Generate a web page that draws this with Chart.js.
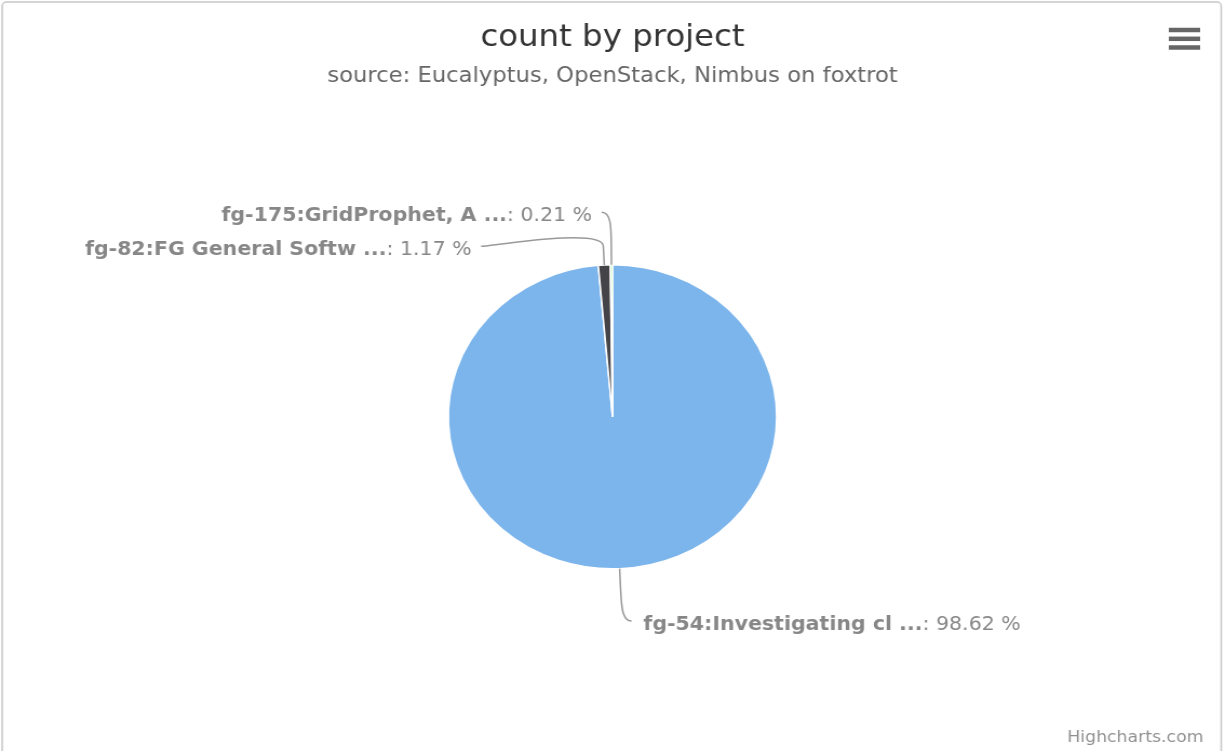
<!DOCTYPE html>
<html>
<head>
<meta charset="utf-8">
<title>count by project</title>
<script src="https://cdn.jsdelivr.net/npm/chart.js@4.4.1/dist/chart.umd.min.js"></script>
<style>
  body { margin: 0; background: #fff; }
  #projectChart { display: block; }
</style>
</head>
<body>
<canvas id="projectChart" width="1134" height="751" style="width:1225px;height:751px"></canvas>
<script>
// donnees du graphique
var projects = ['fg-54:Investigating cl ...', 'fg-82:FG General Softw ...', 'fg-175:GridProphet, A ...'];
var counts = [98.62, 1.17, 0.21];
var colors = ['#7cb5ec', '#434348', '#90ed7d'];

var FONT = '"DejaVu Sans", Verdana, sans-serif';
var LABEL_DIST = 52.5;   // distance label / bord du camembert
var BREAK_DIST = 19;     // point de cassure du connecteur
var LINE_H = 34;

// etiquettes facon highcharts, avec connecteurs
var pieLabels = {
    id: 'pieLabels',
    afterDatasetsDraw: function(chart) {
        var ctx = chart.ctx;
        var meta = chart.getDatasetMeta(0);
        var data = chart.data.datasets[0].data;
        var total = data.reduce(function(a, b) { return a + b; }, 0);
        var items = [];

        meta.data.forEach(function(arc, i) {
            var p = arc.getProps(['x', 'y', 'startAngle', 'endAngle', 'outerRadius'], true);
            var a = (p.startAngle + p.endAngle) / 2;
            var r = p.outerRadius;
            items.push({
                i: i,
                cx: p.x, cy: p.y, r: r,
                left: Math.cos(a) < 0,
                y: p.y + Math.sin(a) * (r + LABEL_DIST),
                ex: p.x + Math.cos(a) * r, ey: p.y + Math.sin(a) * r,
                bx: p.x + Math.cos(a) * (r + BREAK_DIST), by: p.y + Math.sin(a) * (r + BREAK_DIST)
            });
        });

        // eviter les chevauchements de chaque cote
        [true, false].forEach(function(side) {
            var list = items.filter(function(it) { return it.left === side; });
            list.sort(function(a, b) { return a.y - b.y; });
            for (var k = 1; k < list.length; k++) {
                if (list[k].y < list[k - 1].y + LINE_H) list[k].y = list[k - 1].y + LINE_H;
            }
        });

        ctx.save();
        items.forEach(function(it) {
            var rr = it.r + LABEL_DIST;
            var dy = it.y - it.cy;
            var x = it.cx + (it.left ? -1 : 1) * Math.sqrt(Math.max(0, rr * rr - dy * dy));
            var sx = x + (it.left ? -8.75 : 8.75);

            // connecteur
            ctx.beginPath();
            ctx.moveTo(sx, it.y);
            ctx.bezierCurveTo(x, it.y, 2 * it.bx - it.ex, 2 * it.by - it.ey, it.bx, it.by);
            ctx.lineTo(it.ex, it.ey);
            ctx.strokeStyle = '#999999';
            ctx.lineWidth = 1.5;
            ctx.stroke();

            // texte
            var name = projects[it.i];
            var pct = ': ' + (data[it.i] / total * 100).toFixed(2) + ' %';
            var boldFont = 'bold 19px ' + FONT;
            var normFont = '19px ' + FONT;
            ctx.font = boldFont;
            var w1 = ctx.measureText(name).width;
            ctx.font = normFont;
            var w2 = ctx.measureText(pct).width;
            var tx = it.left ? sx - 8.75 - w1 - w2 : sx + 11;
            var ty = it.y + 4;
            ctx.textBaseline = 'middle';
            ctx.textAlign = 'left';
            ctx.fillStyle = '#878787';
            ctx.font = boldFont;
            ctx.fillText(name, tx, ty);
            ctx.font = normFont;
            ctx.fillText(pct, tx + w1, ty);
        });
        ctx.restore();
    },
    afterDraw: function(chart) {
        var ctx = chart.ctx;
        ctx.save();
        // bordure
        ctx.strokeStyle = '#c8c8c8';
        ctx.lineWidth = 1.5;
        ctx.beginPath();
        ctx.roundRect(2, 2, 1128.5, 770, 4);
        ctx.stroke();
        // menu
        ctx.strokeStyle = '#666666';
        ctx.lineWidth = 4.5;
        [30, 38.8, 47.5].forEach(function(y) {
            ctx.beginPath();
            ctx.moveTo(1082, y);
            ctx.lineTo(1111, y);
            ctx.stroke();
        });
        // credits
        ctx.font = '16px ' + FONT;
        ctx.fillStyle = '#909090';
        ctx.textAlign = 'right';
        ctx.textBaseline = 'middle';
        ctx.fillText('Highcharts.com', 1114, 738);
        ctx.restore();
    }
};

var ctx = document.getElementById('projectChart').getContext('2d');
var myPieChart = new Chart(ctx, {
    type: 'pie',
    data: {
        labels: projects,
        datasets: [{
            data: counts,
            backgroundColor: colors,
            borderColor: '#ffffff',
            borderWidth: 1.5,
            radius: 152
        }]
    },
    options: {
        responsive: false,
        devicePixelRatio: 1,
        animation: false,
        events: [],
        layout: { padding: { top: 0, bottom: 17, left: 0, right: 0 } },
        plugins: {
            legend: { display: false },
            tooltip: { enabled: false },
            title: {
                display: true,
                text: 'count by project',
                color: '#333333',
                font: { family: FONT, size: 30, weight: 'normal', lineHeight: 1.2 },
                padding: { top: 20, bottom: 4 }
            },
            subtitle: {
                display: true,
                text: 'source: Eucalyptus, OpenStack, Nimbus on foxtrot',
                color: '#666666',
                font: { family: FONT, size: 21, weight: 'normal', lineHeight: 1.2 },
                padding: { top: 4.4, bottom: 10 }
            }
        }
    },
    plugins: [pieLabels]
});
</script>
</body>
</html>
